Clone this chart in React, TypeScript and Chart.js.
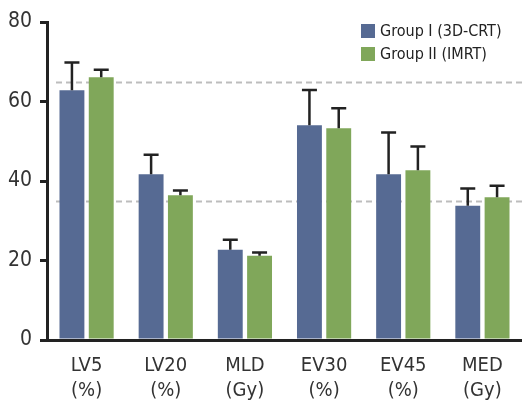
import React, { useEffect, useRef } from "react";
import { Chart, registerables } from "chart.js";

Chart.register(...registerables);

const categories: string[][] = [
  ["LV5", "(%)"],
  ["LV20", "(%)"],
  ["MLD", "(Gy)"],
  ["EV30", "(%)"],
  ["EV45", "(%)"],
  ["MED", "(Gy)"],
];
const seriesNames = ["Group I (3D-CRT)", "Group II (IMRT)"];
const group1Mean = [62.8, 41.7, 22.7, 54.0, 41.7, 33.8];
const group1Sd = [7.0, 4.9, 2.5, 8.9, 10.5, 4.3];
const group2Mean = [66.1, 36.4, 21.2, 53.3, 42.7, 35.9];
const group2Sd = [1.9, 1.2, 0.8, 5.0, 6.0, 2.9];
const referenceLines = [65, 35];
const yTicks = [0, 20, 40, 60, 80];

const BLUE = "#566a93";
const GREEN = "#80a75a";
const INK = "#222222";
const FONT = "'DejaVu Sans Condensed', 'DejaVu Sans', sans-serif";

const errors = [group1Sd, group2Sd];

const refLinePlugin = {
  id: "refLines",
  beforeDatasetsDraw(chart: any) {
    const { ctx, chartArea, scales } = chart;
    ctx.save();
    ctx.strokeStyle = "#bdbdbd";
    ctx.lineWidth = 2;
    ctx.setLineDash([6, 4]);
    referenceLines.forEach((v) => {
      const y = Math.round(scales.y.getPixelForValue(v)) + 0.5;
      ctx.beginPath();
      ctx.moveTo(chartArea.left + 9, y);
      ctx.lineTo(chartArea.right, y);
      ctx.stroke();
    });
    ctx.restore();
  },
};

const errorBarPlugin = {
  id: "errorBars",
  afterDatasetsDraw(chart: any) {
    const { ctx, scales } = chart;
    ctx.save();
    ctx.strokeStyle = INK;
    ctx.lineWidth = 2.5;
    chart.data.datasets.forEach((ds: any, i: number) => {
      const meta = chart.getDatasetMeta(i);
      meta.data.forEach((bar: any, j: number) => {
        const top = scales.y.getPixelForValue(ds.data[j] + errors[i][j]);
        ctx.beginPath();
        ctx.moveTo(bar.x, bar.y);
        ctx.lineTo(bar.x, top);
        ctx.moveTo(bar.x - 7.5, top);
        ctx.lineTo(bar.x + 7.5, top);
        ctx.stroke();
      });
    });
    ctx.restore();
  },
};

const legendPlugin = {
  id: "customLegend",
  afterDraw(chart: any) {
    const { ctx } = chart;
    ctx.save();
    ctx.font = `16px ${FONT}`;
    ctx.textBaseline = "middle";
    ctx.textAlign = "left";
    chart.data.datasets.forEach((ds: any, i: number) => {
      const y = 24 + i * 23;
      ctx.fillStyle = ds.backgroundColor;
      ctx.fillRect(361, y, 14, 14);
      ctx.fillStyle = INK;
      ctx.fillText(ds.label, 380, y + 7.5);
    });
    ctx.restore();
  },
};

export default function App() {
  const ref = useRef<HTMLCanvasElement | null>(null);
  useEffect(() => {
    if (!ref.current) return;
    const chart = new Chart(ref.current, {
      type: "bar",
      data: {
        labels: categories,
        datasets: [
          { label: seriesNames[0], data: group1Mean, backgroundColor: BLUE },
          { label: seriesNames[1], data: group2Mean, backgroundColor: GREEN },
        ],
      },
      options: {
        animation: false,
        responsive: false,
        maintainAspectRatio: false,
        layout: { padding: { top: 22, right: 0, left: 0, bottom: 0 } },
        datasets: { bar: { categoryPercentage: 0.74, barPercentage: 0.85 } },
        plugins: { legend: { display: false }, tooltip: { enabled: false } },
        scales: {
          x: {
            grid: { display: false },
            border: { display: true, color: INK, width: 3 },
            ticks: {
              color: "#333333",
              font: { family: FONT, size: 20, lineHeight: 1.25 },
              padding: 5,
              maxRotation: 0,
            },
            afterFit: (s: any) => {
              s.height = 64;
            },
          },
          y: {
            min: 0,
            max: 80,
            afterBuildTicks: (s: any) => {
              s.ticks = yTicks.map((v) => ({ value: v }));
            },
            grid: {
              display: true,
              drawOnChartArea: false,
              drawTicks: true,
              tickLength: 7,
              color: INK,
              lineWidth: 3,
            },
            border: { display: true, color: INK, width: 3 },
            ticks: {
              color: "#333333",
              font: { family: FONT, size: 21 },
              padding: 8,
            },
            afterFit: (s: any) => {
              s.width = 47;
            },
          },
        },
      },
      plugins: [refLinePlugin, errorBarPlugin, legendPlugin],
    });
    return () => chart.destroy();
  }, []);
  return (
    <div style={{ position: "fixed", left: 0, top: 0, width: 522, height: 404, background: "#fff" }}>
      <canvas ref={ref} width={522} height={404} />
    </div>
  );
}
